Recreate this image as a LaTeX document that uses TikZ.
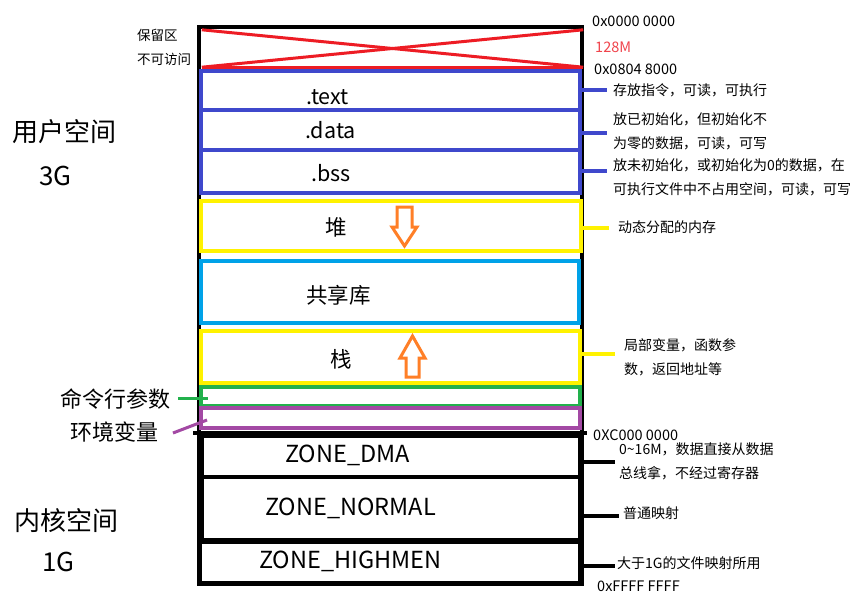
\documentclass[tikz,border=0pt]{standalone}
\usepackage{fontspec}
\setmainfont{Noto Sans CJK SC}
\usetikzlibrary{fit}
\definecolor{pblue}{HTML}{3F48CC}
\definecolor{pyellow}{HTML}{FFF200}
\definecolor{pcyan}{HTML}{00A2E8}
\definecolor{pgreen}{HTML}{22B14C}
\definecolor{ppurple}{HTML}{A349A4}
\definecolor{pred}{HTML}{ED1C24}
\definecolor{porange}{HTML}{FF7F27}
\definecolor{plred}{HTML}{F0444C}
\begin{document}
\begin{tikzpicture}[x=1pt,y=-1pt,
  seg/.style={fit={#1}, inner sep=0pt, draw},
  lbl/.style={anchor=west, inner sep=0pt, font=\fontsize{21.5}{24}\selectfont},
  zlbl/.style={anchor=west, inner sep=0pt, font=\fontsize{23.5}{24}\selectfont},
  ann/.style={anchor=west, inner sep=0pt, align=left, font=\fontsize{14}{24}\selectfont},
  addr/.style={anchor=west, inner sep=0pt, font=\fontsize{14.5}{24}\selectfont},
  big/.style={anchor=west, inner sep=0pt, font=\fontsize{26}{30}\selectfont},
  mid/.style={anchor=west, inner sep=0pt, font=\fontsize{22}{26}\selectfont},
  small/.style={anchor=west, inner sep=0pt, font=\fontsize{13.5}{16}\selectfont},
  growarrow/.style={draw=porange, fill=white, line width=3pt, line join=miter}
]
\useasboundingbox[fill=white] (0,0) rectangle (865,608);

% outer frame
\node[seg={(199,27) (582,584)}, line width=3.5pt] (frame) {};

% reserved area
\node[fit={(202,30) (583,67)}, inner sep=0pt] (resv) {};
\draw[pred, line width=3pt] (resv.north west) -- (resv.south east);
\draw[pred, line width=3pt] (resv.south west) -- (resv.north east);
\draw[pred, line width=3pt] (resv.south west) -- (resv.south east);

% user space segments
\node[seg={(201,71) (580,110)}, draw=pblue, line width=4pt] (btext) {};
\node[seg={(201,110) (580,150)}, draw=pblue, line width=4pt] (bdata) {};
\node[seg={(201,150) (580,193)}, draw=pblue, line width=4pt] (bbss) {};
\node[seg={(201,201) (581,251)}, draw=pyellow, line width=4pt] (heap) {};
\node[seg={(201,261) (579,323)}, draw=pcyan, line width=4.5pt] (lib) {};
\node[seg={(201,331) (580,383)}, draw=pyellow, line width=4pt] (stack) {};
\node[seg={(201,387) (580,406)}, draw=pgreen, line width=3.5pt] (cmd) {};
\node[seg={(201,408) (580,428)}, draw=ppurple, line width=3.5pt] (env) {};

% kernel space
\coordinate (kL) at (193,433);
\coordinate (kR) at (587,433);
\draw[line width=4.5pt] (kL) -- (kR);
\node[seg={(202,436) (580,477)}, line width=4.5pt] (dma) {};
\node[seg={(202,477) (580,540)}, line width=4.5pt] (normal) {};
\node[seg={(200,542) (580,583)}, line width=3.5pt] (high) {};

% segment labels
\node[lbl] (ltext) at (306,97) {.text};
\node[lbl] (ldata) at (305,130) {.data};
\node[lbl] (lbss) at (311,173) {.bss};
\node[lbl] (lheap) at (325,227) {堆};
\node[lbl] (llib) at (306,295) {共享库};
\node[lbl] (lstack) at (330,359) {栈};
\node[zlbl] (ldma) at (285,455) {ZONE\_DMA};
\node[zlbl] (lnormal) at (265,508) {ZONE\_NORMAL};
\node[zlbl] (lhigh) at (259,561) {ZONE\_HIGHMEN};

% growth arrows
\draw[growarrow] (397,207) -- (412,207) -- (412,227) -- (417,227) -- (404.5,246) -- (392,227) -- (397,227) -- cycle;
\draw[growarrow] (412.5,336) -- (425,358) -- (419,358) -- (419,377) -- (406,377) -- (406,358) -- (400,358) -- cycle;

% left labels
\node[small] (resv1) at (137,35) {保留区};
\node[small] (resv2) at (137,59) {不可访问};
\node[big] (user) at (12,132) {用户空间};
\node[big] (user3) at (39,176) {3G};
\node[big] (kern) at (14,521) {内核空间};
\node[big] (kern1) at (42,562) {1G};
\node[mid] (lcmd) at (60,399) {命令行参数};
\node[mid] (lenv) at (70,432) {环境变量};

\coordinate (gS) at (178,398);
\coordinate (gE) at (208,398);
\draw[pgreen, line width=3pt] (gS) -- (gE);
\coordinate (pS) at (173,433);
\coordinate (pE) at (207,420);
\draw[ppurple, line width=3pt] (pS) -- (pE);

% right annotations
\node[addr] (a0) at (592,21) {0x0000 0000};
\node[addr, text=plred] (a128) at (595,47) {128M};
\node[addr] (a1) at (594,69) {0x0804 8000};
\node[addr] (a2) at (593,435) {0XC000 0000};
\node[addr] (a3) at (597,586) {0xFFFF FFFF};

\node[ann] (ntext) at (613,90) {存放指令，可读，可执行};
\node[ann] (ndata) at (613,131) {放已初始化，但初始化不\\为零的数据，可读，可写};
\node[ann] (nbss) at (613,177) {放未初始化，或初始化为0的数据，在\\可执行文件中不占用空间，可读，可写};
\node[ann] (nheap) at (618,227) {动态分配的内存};
\node[ann] (nstack) at (624,357) {局部变量，函数参\\数，返回地址等};
\node[ann] (ndma) at (619,461) {0\textasciitilde16M，数据直接从数据\\总线拿，不经过寄存器};
\node[ann] (nnormal) at (623,513) {普通映射};
\node[ann] (nhigh) at (617,563) {大于1G的文件映射所用};

% annotation connectors
\coordinate (cT) at (607,90);
\coordinate (cD) at (607,133);
\coordinate (cB) at (607,171);
\coordinate (cH) at (609,228);
\coordinate (cS) at (615,354);
\coordinate (cZ) at (615,462);
\coordinate (cN) at (619,516);
\coordinate (cG) at (615,566);
\draw[pblue, line width=3.5pt] (cT -| btext.east) -- (cT);
\draw[pblue, line width=3.5pt] (cD -| bdata.east) -- (cD);
\draw[pblue, line width=3.5pt] (cB -| bbss.east) -- (cB);
\draw[pyellow, line width=3.5pt] (cH -| heap.east) -- (cH);
\draw[pyellow, line width=3.5pt] (cS -| stack.east) -- (cS);
\draw[line width=3.5pt] (cZ -| dma.east) -- (cZ);
\draw[line width=3.5pt] (cN -| normal.east) -- (cN);
\draw[line width=3.5pt] (cG -| high.east) -- (cG);
\end{tikzpicture}
\end{document}
